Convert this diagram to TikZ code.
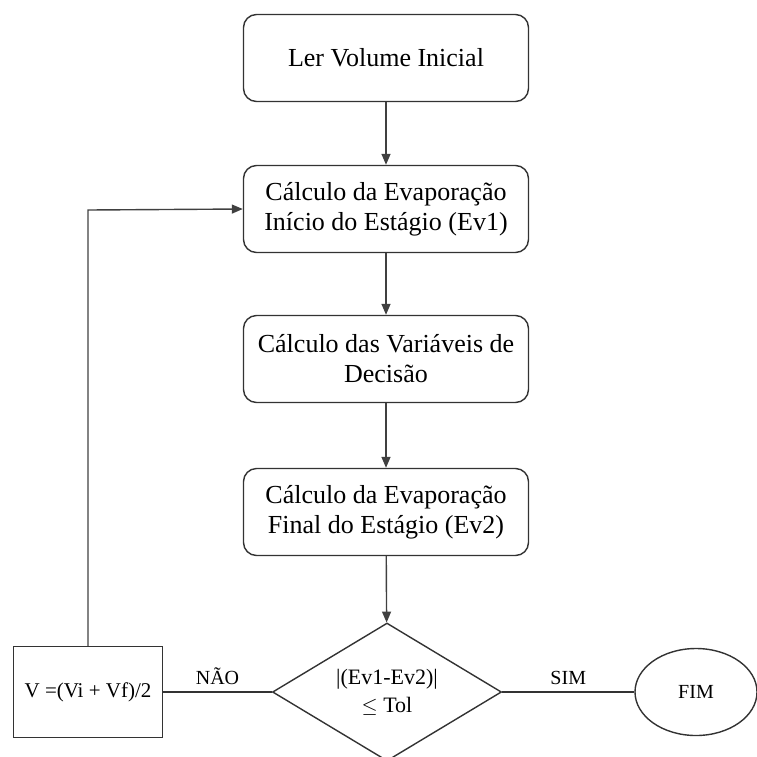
\documentclass[tikz,border=0pt]{standalone}
\usepackage{fontspec}
\setmainfont{Liberation Serif}
\usetikzlibrary{shapes.geometric,arrows.meta}
\begin{document}
\begin{tikzpicture}[x=1pt,y=-1pt,
  line width=1.4pt, draw=black!80,
  stepbox/.style={draw, rounded corners=13pt, minimum width=285pt, minimum height=87pt,
    align=center, font=\fontsize{26}{30}\selectfont, inner sep=0pt},
  flow/.style={draw=black!75, -{Triangle[length=11pt,width=9pt]}},
  lbl/.style={font=\fontsize{20}{24}\selectfont}]
\useasboundingbox (0,0) rectangle (757,756);
\node[stepbox] (ler) at (386,58) {Ler Volume Inicial};
\node[stepbox] (ev1) at (386,209) {Cálculo da Evaporação\\Início do Estágio (Ev1)};
\node[stepbox] (dec) at (386,359) {Cálculo das Variáveis de\\Decisão};
\node[stepbox] (ev2) at (386,512) {Cálculo da Evaporação\\Final do Estágio (Ev2)};
\node[draw, diamond, minimum width=229pt, minimum height=138pt, inner sep=0pt, aspect=1.66,
  align=center, font=\fontsize{22}{28}\selectfont] (tol) at (387,692) {|(Ev1-Ev2)|\\$\leq$ Tol};
\node[draw, minimum width=149pt, minimum height=91pt, inner sep=0pt,
  font=\fontsize{21}{25}\selectfont] (med) at (88,692) {V =(Vi + Vf)/2};
\node[draw, ellipse, minimum width=122pt, minimum height=87pt, inner sep=0pt,
  font=\fontsize{20}{24}\selectfont] (fim) at (696,692) {FIM};
\coordinate (cnt) at (88,210);
\draw[flow] (ler) -- (ev1);
\draw[flow] (ev1) -- (dec);
\draw[flow] (dec) -- (ev2);
\draw[flow] (ev2) -- (tol);
\draw (tol.west) -- node[lbl, above=3pt] {NÃO} (med.east);
\draw (tol.east) -- node[lbl, above=3pt] {SIM} (fim.west);
\draw[flow] (med.north) -- (cnt) -- (ev1.west);
\end{tikzpicture}
\end{document}
